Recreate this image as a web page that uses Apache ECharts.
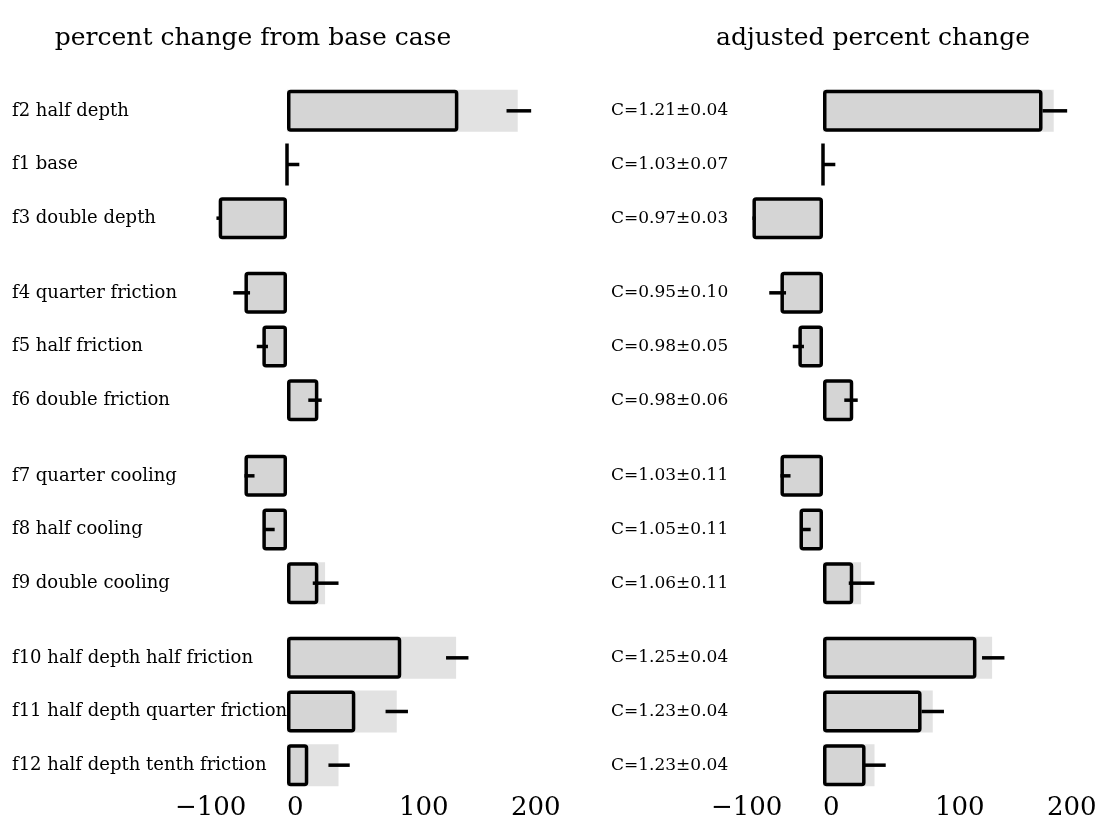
<!DOCTYPE html>
<html>
<head>
<meta charset="utf-8">
<script src="https://cdn.jsdelivr.net/npm/echarts@6/dist/echarts.min.js"></script>
<style>
html,body{margin:0;padding:0;background:#fff;}
#chart{width:1107px;height:823px;}
</style>
</head>
<body>
<div id="chart"></div>
<script>
// ---- data ----
const categories = ['f2 half depth','f1 base','f3 double depth','f4 quarter friction','f5 half friction','f6 double friction','f7 quarter cooling','f8 half cooling','f9 double cooling','f10 half depth half friction','f11 half depth quarter friction','f12 half depth tenth friction'];
const cLabels = ['C=1.21\u00b10.04','C=1.03\u00b10.07','C=0.97\u00b10.03','C=0.95\u00b10.10','C=0.98\u00b10.05','C=0.98\u00b10.06','C=1.03\u00b10.11','C=1.05\u00b10.11','C=1.06\u00b10.11','C=1.25\u00b10.04','C=1.23\u00b10.04','C=1.23\u00b10.04'];
const rawChange = [153, 0, -61, -38, -22, 28, -38, -22, 28, 102, 61, 19];
const adjChange = [196, 0, -63, -38, -22, 27, -38, -21, 27, 137, 88, 38];
const shadeChange = [206, null, null, null, null, null, null, null, 34, 151, 98, 46];
const errLow  = [196, 0, -63, -48, -27, 19, -38, -20, 23, 142, 88, 37];
const errHigh = [218, 11, -60, -33, -17, 31, -29, -11, 46, 162, 108, 56];
const tickValues = [-100, 0, 100, 200];
const groups = [[0,3],[3,6],[6,9],[9,12]];
const titles = ['percent change from base case', 'adjusted percent change'];

// ---- layout ----
const FONT = 'DejaVu Serif';
const pxPerUnit = 1.12;
const xMin = -110, xMax = 230;
const panelZero = [287, 823];
const labelStart = [12, 611];
const labelSize = [18, 17];
const gridTops = [84, 266, 449, 631];
const gridH = 161;
const gridW = (xMax - xMin) * pxPerUnit;

const grids = [], xAxes = [], yAxes = [], series = [];
[0, 1].forEach(function (p) {
  const gLeft = panelZero[p] + xMin * pxPerUnit;
  const barVals = p === 0 ? rawChange : adjChange;
  const yLabels = p === 0 ? categories : cLabels;
  groups.forEach(function (gr, gi) {
    const idx = grids.length;
    grids.push({ left: gLeft, top: gridTops[gi], width: gridW, height: gridH });
    const isBottom = gi === groups.length - 1;
    xAxes.push({
      type: 'value', gridIndex: idx, min: xMin, max: xMax,
      axisLine: { show: false }, axisTick: { show: false }, splitLine: { show: false },
      axisLabel: {
        show: isBottom, customValues: tickValues, align: 'left', margin: 3,
        fontFamily: FONT, fontSize: 26, color: '#000',
        formatter: function (v) { return v < 0 ? '\u2212' + Math.abs(v) : String(v); }
      }
    });
    yAxes.push({
      type: 'category', gridIndex: idx, data: yLabels.slice(gr[0], gr[1]), inverse: true,
      axisLine: { show: false }, axisTick: { show: false }, splitLine: { show: false },
      axisLabel: {
        align: 'left', margin: gLeft - labelStart[p],
        fontFamily: FONT, fontSize: labelSize[p], color: '#000'
      }
    });
    series.push({
      type: 'bar', xAxisIndex: idx, yAxisIndex: idx, barWidth: 42, barGap: '-100%',
      data: shadeChange.slice(gr[0], gr[1]),
      itemStyle: { color: '#e2e2e2' }, silent: true, z: 1
    });
    series.push({
      type: 'bar', xAxisIndex: idx, yAxisIndex: idx, barWidth: 42, barGap: '-100%',
      data: barVals.slice(gr[0], gr[1]),
      itemStyle: { color: '#d5d5d5', borderColor: '#000', borderWidth: 3.5, borderRadius: 2 },
      silent: true, z: 2
    });
    const errData = [];
    for (let i = gr[0]; i < gr[1]; i++) errData.push([errLow[i], errHigh[i], i - gr[0]]);
    series.push({
      type: 'custom', xAxisIndex: idx, yAxisIndex: idx, z: 3, silent: true,
      encode: { x: [0, 1], y: 2 },
      data: errData,
      renderItem: function (params, api) {
        const a = api.coord([api.value(0), api.value(2)]);
        const b = api.coord([api.value(1), api.value(2)]);
        return { type: 'line', shape: { x1: a[0], y1: a[1], x2: b[0], y2: b[1] },
                 style: { stroke: '#000', lineWidth: 3.5 } };
      }
    });
  });
});

const chart = echarts.init(document.getElementById('chart'), null, { renderer: 'canvas' });
chart.setOption({
  animation: false,
  backgroundColor: '#fff',
  title: [
    { text: titles[0], left: 248, top: 21, textAlign: 'center',
      textStyle: { fontFamily: FONT, fontSize: 25, fontWeight: 'normal', color: '#000' } },
    { text: titles[1], left: 868, top: 21, textAlign: 'center',
      textStyle: { fontFamily: FONT, fontSize: 25, fontWeight: 'normal', color: '#000' } }
  ],
  grid: grids, xAxis: xAxes, yAxis: yAxes, series: series
});
</script>
</body>
</html>
